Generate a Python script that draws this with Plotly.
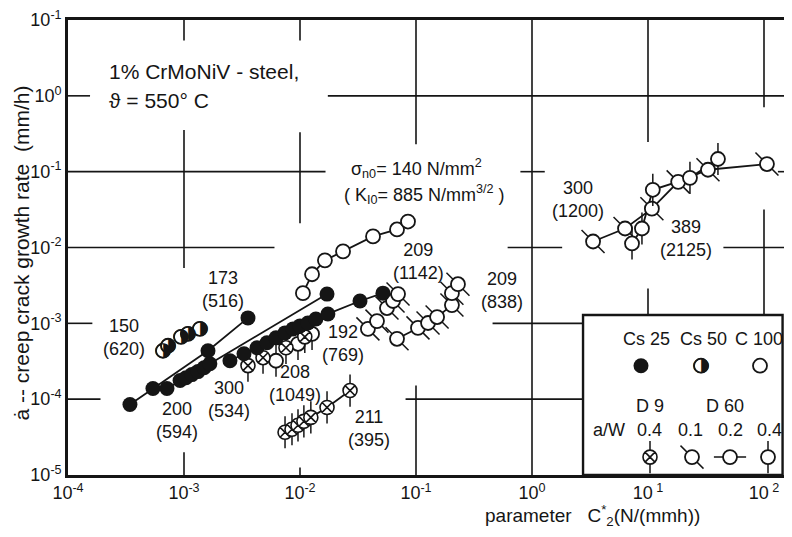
import plotly.graph_objects as go

# ---------------- data ----------------
# Cs 25 (filled)
s173_x = [3.42e-4, 5.4e-4, 1.61e-3, 3.56e-3]
s173_y = [8.5e-5, 1.38e-4, 4.35e-4, 1.18e-3]

s200_x = [7.13e-4, 9.25e-4, 1.04e-3, 1.17e-3, 1.32e-3, 1.49e-3, 1.67e-3, 1.71e-2]
s200_y = [1.38e-4, 1.76e-4, 1.92e-4, 2.11e-4, 2.31e-4, 2.60e-4, 2.93e-4, 2.43e-3]

s300_x = [2.49e-3, 3.29e-3, 4.26e-3, 5.19e-3, 6.21e-3, 7.43e-3, 8.71e-3, 1.00e-2,
          1.17e-2, 1.37e-2, 1.74e-2, 3.29e-2, 5.19e-2]
s300_y = [3.21e-4, 3.97e-4, 4.76e-4, 5.54e-4, 6.44e-4, 7.48e-4, 8.45e-4, 9.25e-4,
          1.01e-3, 1.14e-3, 1.33e-3, 1.97e-3, 2.50e-3]

# Cs 50 (half filled)
s150_x = [6.59e-4, 7.28e-4, 9.42e-4, 1.08e-3, 1.37e-3]
s150_y = [4.35e-4, 5.06e-4, 6.63e-4, 7.26e-4, 8.45e-4]

# C 100 (open)
s1142_x = [1.06e-2, 1.27e-2, 1.64e-2, 2.35e-2, 4.26e-2, 6.86e-2, 8.53e-2]
s1142_y = [2.50e-3, 4.44e-3, 6.77e-3, 8.89e-3, 1.40e-2, 1.73e-2, 2.20e-2]

# D 60 series (open with ticks)
s192_x = [3.85e-2, 4.61e-2, 5.62e-2, 6.34e-2, 7.00e-2]
s192_y = [8.45e-4, 1.07e-3, 1.59e-3, 1.97e-3, 2.43e-3]

s208_x = [6.21e-3, 9.61e-3, 1.27e-2]
s208_y = [3.21e-4, 5.37e-4, 7.26e-4]

s838_x = [6.86e-2, 0.104, 0.127, 0.152, 0.204, 0.204, 0.230]
s838_y = [6.25e-4, 8.71e-4, 1.01e-3, 1.21e-3, 1.74e-3, 2.50e-3, 3.28e-3]

s1200_x = [3.36, 6.34, 10.8, 18.2, 32.9, 106.0]
s1200_y = [1.20e-2, 1.78e-2, 3.25e-2, 7.34e-2, 0.106, 0.126]

s2125_x = [7.28, 8.87, 11.0, 23.0, 40.1]
s2125_y = [1.13e-2, 1.78e-2, 5.77e-2, 8.29e-2, 0.147]

# D 9 series (crossed circles)
s208x_x = [3.56e-3, 4.80e-3, 7.57e-3, 1.10e-2]
s208x_y = [2.77e-4, 3.52e-4, 4.76e-4, 6.63e-4]

s211_x = [7.43e-3, 8.53e-3, 9.61e-3, 1.08e-2, 1.24e-2, 1.71e-2, 2.70e-2]
s211_y = [3.66e-5, 4.01e-5, 4.52e-5, 5.10e-5, 5.75e-5, 7.78e-5, 1.30e-4]

# tick labels
x_tickvals = [1e-4, 1e-3, 1e-2, 1e-1, 1e0, 1e1, 1e2]
x_ticktext = ["10<sup>-4</sup>", "10<sup>-3</sup>", "10<sup>-2</sup>", "10<sup>-1</sup>",
              "10<sup>0</sup>", "10<sup> 1</sup>", "10<sup> 2</sup>"]
y_tickvals = [1e-5, 1e-4, 1e-3, 1e-2, 1e-1, 1e0, 1e1]
y_ticktext = ["10<sup>-5</sup>", "10<sup>-4</sup>", "10<sup>-3</sup>", "10<sup>-2</sup>",
              "10<sup>-1</sup>", "10<sup>0</sup>", "10<sup>-1</sup>"]

# ---------------- layout constants ----------------
# the page body keeps its default 8 px margin; size the figure so nothing is cut off
BODY = 8
WIN_W, WIN_H = 792, 537
AX_L, AX_T, AX_B = 68, 17, 475          # plot-area edges in window pixels
W, H = WIN_W - 2 * BODY, WIN_H - 2 * BODY
ML, MR, MT, MB = AX_L - BODY, 0, AX_T - BODY, (BODY + H) - AX_B
PW, PH = W - ML - MR, H - MT - MB
XMIN = -4.0
XMAX = XMIN + PW / 116.0
YMIN, YMAX = -5.0, 1.0
FONT = "Liberation Sans, Arial, sans-serif"
INK = "#151515"


def fx(e):
    return (e - XMIN) / (XMAX - XMIN)


def fy(e):
    return (e - YMIN) / (YMAX - YMIN)


def PX(p):
    return (p - AX_L) / PW


def PY(p):
    return (AX_B - p) / PH


fig = go.Figure()

LW = 1.8
MS_F = 15
MS_O = 14
TICK = 23


def line_trace(x, y):
    fig.add_trace(go.Scatter(x=x, y=y, mode="lines", line=dict(color=INK, width=LW),
                             hoverinfo="skip", showlegend=False))


def filled(x, y, xa="x", ya="y"):
    fig.add_trace(go.Scatter(x=x, y=y, mode="markers", showlegend=False, xaxis=xa, yaxis=ya,
                             marker=dict(symbol="circle", size=MS_F, color=INK,
                                         line=dict(color=INK, width=0))))


def opened(x, y, xa="x", ya="y"):
    fig.add_trace(go.Scatter(x=x, y=y, mode="markers", showlegend=False, xaxis=xa, yaxis=ya,
                             marker=dict(symbol="circle", size=MS_O, color="white",
                                         line=dict(color=INK, width=LW))))


def ticked(x, y, sym, xa="x", ya="y"):
    fig.add_trace(go.Scatter(x=x, y=y, mode="markers", showlegend=False, xaxis=xa, yaxis=ya,
                             marker=dict(symbol=sym, size=TICK, color=INK,
                                         line=dict(color=INK, width=1.5))))
    opened(x, y, xa, ya)


def crossed(x, y, xa="x", ya="y"):
    fig.add_trace(go.Scatter(x=x, y=y, mode="markers", showlegend=False, xaxis=xa, yaxis=ya,
                             marker=dict(symbol="line-ns", size=TICK, color=INK,
                                         line=dict(color=INK, width=1.5))))
    fig.add_trace(go.Scatter(x=x, y=y, mode="markers", showlegend=False, xaxis=xa, yaxis=ya,
                             marker=dict(symbol="circle-x", size=MS_O, color="white",
                                         line=dict(color=INK, width=1.6))))


def half(x, y, xa="x", ya="y"):
    # open circle whose right half is drawn by a black glyph
    opened(x, y, xa, ya)
    fig.add_trace(go.Scatter(x=x, y=y, mode="text", text=["◑"] * len(x), showlegend=False,
                             xaxis=xa, yaxis=ya, textposition="middle center",
                             hoverinfo="skip",
                             textfont=dict(family="DejaVu Sans", size=20, color=INK)))


# lines first
for xs, ys in [(s173_x, s173_y), (s200_x, s200_y), (s300_x, s300_y), (s1142_x, s1142_y),
               (s211_x, s211_y), (s838_x, s838_y), (s1200_x, s1200_y), (s2125_x, s2125_y)]:
    line_trace(xs, ys)

ticked(s192_x, s192_y, "line-nw")
ticked(s208_x, s208_y, "line-ns")
ticked(s838_x, s838_y, "line-nw")
ticked(s1200_x, s1200_y, "line-nw")
ticked(s2125_x, s2125_y, "line-ns")
crossed(s208x_x, s208x_y)
crossed(s211_x, s211_y)
opened(s1142_x, s1142_y)
filled(s173_x, s173_y)
filled(s200_x, s200_y)
filled(s300_x, s300_y)
half(s150_x, s150_y)

# ---------------- legend keys (own overlay axes in plot fractions) ----------------
key_fill_pos = (641, 365)
key_half_pos = (701, 365)
key_open_pos = (760, 365)
key_cross_pos = (650, 457)
key_t01_pos = (692, 457)
key_t02_pos = (730, 457)
key_t04_pos = (768, 457)
filled([PX(key_fill_pos[0])], [PY(key_fill_pos[1])], "x2", "y2")
half([PX(key_half_pos[0])], [PY(key_half_pos[1])], "x2", "y2")
opened([PX(key_open_pos[0])], [PY(key_open_pos[1])], "x2", "y2")
crossed([PX(key_cross_pos[0])], [PY(key_cross_pos[1])], "x2", "y2")
ticked([PX(key_t01_pos[0])], [PY(key_t01_pos[1])], "line-nw", "x2", "y2")
ticked([PX(key_t02_pos[0])], [PY(key_t02_pos[1])], "line-ew", "x2", "y2")
ticked([PX(key_t04_pos[0])], [PY(key_t04_pos[1])], "line-ns", "x2", "y2")

# ---------------- grid fragments & legend box ----------------
shapes = []
hseg = [(0, -4, -3.81), (0, -1.76, XMAX),
        (-1, -4, -1.78), (-1, -0.10, 0.11), (-1, 2.12, XMAX),
        (-2, -4, -2.22), (-2, -0.21, 0.26), (-2, 1.65, XMAX),
        (-3, -4, -3.79), (-3, -0.34, 0.44),
        (-4, -4, -3.72), (-4, -1.09, 0.44)]
vseg = [(-3, 1, 0.73), (-3, -0.45, -2.27), (-3, -4.70, -5),
        (-2, 1, 0.73), (-2, -0.48, -1.68), (-2, -4.9, -5),
        (-1, 1, -0.64), (-1, -3.82, -5),
        (0, 1, -5),
        (1, 1, -0.61), (1, -2.54, -2.89),
        (2, 1, -0.15), (2, -1.50, -2.89)]
for e, a, b in hseg:
    shapes.append(dict(type="line", xref="paper", yref="paper", x0=fx(a), x1=fx(b),
                       y0=fy(e), y1=fy(e), line=dict(color=INK, width=1.6)))
for e, a, b in vseg:
    shapes.append(dict(type="line", xref="paper", yref="paper", x0=fx(e), x1=fx(e),
                       y0=fy(a), y1=fy(b), line=dict(color=INK, width=1.6)))
shapes.append(dict(type="rect", xref="paper", yref="paper", x0=fx(0.44), x1=0.998,
                   y0=0, y1=fy(-2.89), line=dict(color=INK, width=2.4)))

# ---------------- texts ----------------
ann = []


def txt(t, px, py, size=18, xanchor="center"):
    ann.append(dict(text=t, x=PX(px), y=PY(py), xref="paper", yref="paper",
                    xanchor=xanchor, yanchor="middle", showarrow=False, borderpad=0,
                    font=dict(family=FONT, size=size, color=INK)))


txt("1% CrMoNiV - steel,", 108, 69, 21, "left")
txt("ϑ = 550° C", 108, 98, 21, "left")
txt("σ<sub>n0</sub>= 140 N/mm<sup>2</sup>", 350, 166, 18, "left")
txt("( K<sub>I0</sub>= 885 N/mm<sup>3/2</sup> )", 343, 193, 18, "left")
txt("173<br>(516)", 223, 288)
txt("150<br>(620)", 124, 337)
txt("200<br>(594)", 177, 420)
txt("300<br>(534)", 229, 399)
txt("208<br>(1049)", 295, 383)
txt("192<br>(769)", 343, 343)
txt("211<br>(395)", 369, 428)
txt("209<br>(1142)", 418, 260)
txt("209<br>(838)", 502, 289)
txt("300<br>(1200)", 578, 198)
txt("389<br>(2125)", 686, 237)
# legend texts
txt("Cs 25", 646, 338)
txt("Cs 50", 703, 338)
txt("C 100", 759, 338)
txt("D 9", 650, 406)
txt("D 60", 725, 406)
txt("a/W", 609, 430)
txt("0.4", 649, 430)
txt("0.1", 690, 430)
txt("0.2", 730, 430)
txt("0.4", 769, 430)
# axis titles
txt("parameter   C<sup>*</sup><sub>2</sub>(N/(mmh))", 592, 516, 19)
ann.append(dict(text="ȧ -- creep crack growth rate  (mm/h)", x=PX(21), y=PY(252),
                xref="paper", yref="paper", textangle=-90, showarrow=False,
                xanchor="center", yanchor="middle", borderpad=0,
                font=dict(family=FONT, size=21, color=INK)))

fig.update_layout(
    width=W, height=H,
    margin=dict(l=ML, r=MR, t=MT, b=MB, pad=0),
    paper_bgcolor="white", plot_bgcolor="white",
    showlegend=False,
    font=dict(family=FONT, size=18, color=INK),
    xaxis=dict(type="log", range=[XMIN, XMAX], showgrid=False, zeroline=False,
               showline=True, linecolor=INK, linewidth=2.6, mirror=True, ticks="",
               tickmode="array", tickvals=x_tickvals, ticktext=x_ticktext,
               ticklabeloverflow="allow",
               tickfont=dict(family=FONT, size=18, color=INK)),
    yaxis=dict(type="log", range=[YMIN, YMAX], showgrid=False, zeroline=False,
               showline=True, linecolor=INK, linewidth=2.6, mirror=False, ticks="",
               tickmode="array", tickvals=y_tickvals, ticktext=y_ticktext,
               ticklabeloverflow="allow",
               tickfont=dict(family=FONT, size=18, color=INK)),
    xaxis2=dict(range=[0, 1], domain=[0, 1], visible=False, anchor="y2", overlaying="x"),
    yaxis2=dict(range=[0, 1], domain=[0, 1], visible=False, anchor="x2", overlaying="y"),
    shapes=shapes,
    annotations=ann,
)

fig.write_html("out.html")
